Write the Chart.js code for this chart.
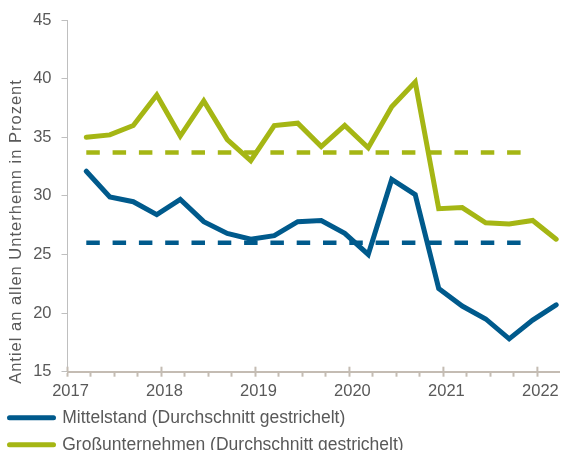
<!DOCTYPE html>
<html><head><meta charset="utf-8">
<script src="https://cdn.jsdelivr.net/npm/chart.js@4"></script>
<style>html,body{margin:0;padding:0;background:#fff;}#wrap{width:563px;height:450px;position:relative;}</style>
</head><body><div id="wrap"><canvas id="c"></canvas></div>
<script>
// ---- data ----
const quarters = ['2017 Q1','2017 Q2','2017 Q3','2017 Q4','2018 Q1','2018 Q2','2018 Q3','2018 Q4',
  '2019 Q1','2019 Q2','2019 Q3','2019 Q4','2020 Q1','2020 Q2','2020 Q3','2020 Q4',
  '2021 Q1','2021 Q2','2021 Q3','2021 Q4','2022 Q1'];
const mittelstand = [32.1, 29.9, 29.5, 28.4, 29.7, 27.8, 26.8, 26.3, 26.6, 27.8, 27.9, 26.8, 25.0, 31.4, 30.1, 22.1, 20.6, 19.5, 17.8, 19.4, 20.7];
const grossunternehmen = [35.0, 35.2, 36.0, 38.6, 35.1, 38.1, 34.8, 33.0, 36.0, 36.2, 34.2, 36.0, 34.1, 37.6, 39.7, 28.9, 29.0, 27.7, 27.6, 27.9, 26.3];
const averageRange = ['2017 Q1', '2021 Q4'];
const averageMittelstand = [26.0, 26.0];
const averageGross = [33.7, 33.7];
const yTicks = [15, 20, 25, 30, 35, 40, 45];
const xYears = [2017, 2018, 2019, 2020, 2021, 2022];
const seriesNames = ['Mittelstand (Durchschnitt gestrichelt)', 'Großunternehmen (Durchschnitt gestrichelt)'];
const yTitle = 'Antiel an allen Unterhemn in Prozent';

const BLUE = '#005a8c';
const GREEN = '#a5b614';
const TEXT = '#595959';
const AXIS_X = '#c4bcb3';
const AXIS_Y = '#bfbfbf';
const FONT = "'Liberation Sans', Arial, sans-serif";

const toX = q => { const p = q.split(' Q'); return +p[0] + (+p[1] - 1) / 4 + 0.2; };
const pts = arr => arr.map((v, i) => ({x: toX(quarters[i]), y: v}));
const avgPts = arr => arr.map((v, i) => ({x: toX(averageRange[i]), y: v}));

const decor = {
  id: 'decor',
  afterDraw(chart) {
    const ctx = chart.ctx, xs = chart.scales.x, a = chart.chartArea;
    ctx.save();
    ctx.strokeStyle = AXIS_X; ctx.lineWidth = 2;
    xYears.forEach(yr => {
      const px = xs.getPixelForValue(yr);
      ctx.beginPath(); ctx.moveTo(px, a.bottom - 5); ctx.lineTo(px, a.bottom); ctx.stroke();
    });
    ctx.fillStyle = TEXT;
    ctx.font = '16.5px ' + FONT;
    if ('letterSpacing' in ctx) ctx.letterSpacing = '1px';
    ctx.translate(21, 231.5);
    ctx.rotate(-Math.PI / 2);
    ctx.textAlign = 'center'; ctx.textBaseline = 'alphabetic';
    ctx.fillText(yTitle, 0, 0);
    if ('letterSpacing' in ctx) ctx.letterSpacing = '0px';
    ctx.restore();
  }
};

new Chart(document.getElementById('c'), {
  type: 'line',
  data: {
    datasets: [
      {label: seriesNames[0], data: pts(mittelstand), borderColor: BLUE, borderWidth: 5, pointRadius: 0, borderCapStyle: 'round', tension: 0},
      {label: seriesNames[1], data: pts(grossunternehmen), borderColor: GREEN, borderWidth: 5, pointRadius: 0, borderCapStyle: 'round', tension: 0},
      {label: 'avgM', data: avgPts(averageMittelstand), borderColor: BLUE, borderWidth: 4.5, pointRadius: 0, borderDash: [13.5, 12.8]},
      {label: 'avgG', data: avgPts(averageGross), borderColor: GREEN, borderWidth: 4.5, pointRadius: 0, borderDash: [13.5, 12.8]}
    ]
  },
  options: {
    responsive: true, maintainAspectRatio: false, animation: false, devicePixelRatio: 1,
    layout: {padding: {top: 20, right: 4, bottom: -13.5, left: 0}},
    plugins: {
      tooltip: {enabled: false},
      legend: {
        position: 'bottom', align: 'start',
        labels: {
          usePointStyle: true, pointStyleWidth: 44, padding: 9.5,
          font: {size: 17.5, family: FONT}, color: TEXT,
          generateLabels: () => [
            {text: seriesNames[0], fillStyle: BLUE, strokeStyle: BLUE, lineWidth: 5, lineCap: 'round', pointStyle: 'line', hidden: false, datasetIndex: 0, fontColor: TEXT},
            {text: seriesNames[1], fillStyle: GREEN, strokeStyle: GREEN, lineWidth: 5, lineCap: 'round', pointStyle: 'line', hidden: false, datasetIndex: 1, fontColor: TEXT}
          ]
        }
      }
    },
    scales: {
      x: {
        type: 'linear', min: 2017, max: 2022.23,
        afterBuildTicks: s => {
          const t = [];
          for (let i = 0; i <= (xYears[xYears.length - 1] - xYears[0]) * 4; i++) t.push({value: xYears[0] + i / 4});
          s.ticks = t;
        },
        afterFit: s => { s.height = 27.8; },
        ticks: {
          autoSkip: false, maxRotation: 0, padding: 5, labelOffset: 3,
          color: TEXT, font: {size: 16.5, family: FONT},
          callback: v => Number.isInteger(v) ? String(v) : ''
        },
        grid: {drawOnChartArea: false, tickLength: 5, tickColor: AXIS_X, tickWidth: 2},
        border: {color: AXIS_X, width: 2}
      },
      y: {
        min: 15, max: 45,
        afterBuildTicks: s => { s.ticks = yTicks.map(v => ({value: v})); },
        afterFit: s => { s.width = 67.5; },
        ticks: {padding: 10, color: TEXT, font: {size: 16.5, family: FONT}},
        grid: {drawOnChartArea: false, tickLength: 6, tickColor: AXIS_Y},
        border: {color: AXIS_Y, width: 1}
      }
    }
  },
  plugins: [decor]
});
</script>
</body></html>
